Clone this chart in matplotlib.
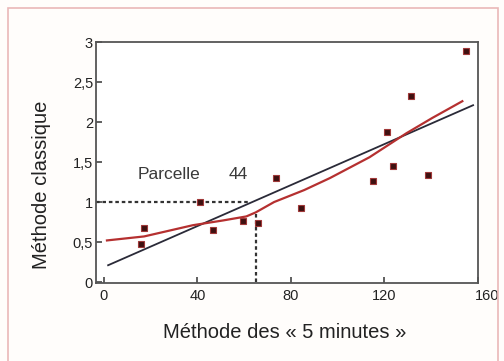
import matplotlib
matplotlib.use("Agg")
import matplotlib.pyplot as plt
from matplotlib.patches import Rectangle
from matplotlib.ticker import FuncFormatter
from matplotlib.transforms import ScaledTranslation

plt.rcParams['font.family'] = ['Liberation Sans', 'DejaVu Sans']

# Data points (Méthode des « 5 minutes », Méthode classique)
x_points = [15.8, 17.3, 41.1, 46.8, 59.4, 66.1, 73.5, 84.4, 115.3, 121.1, 123.5, 131.3, 138.5, 154.9]
y_points = [0.47, 0.68, 1.00, 0.65, 0.76, 0.74, 1.30, 0.92, 1.26, 1.88, 1.45, 2.33, 1.34, 2.89]

# Linear regression (black line) endpoints
line_x = [1.8, 157.9]
line_y = [0.21, 2.21]

# Smoothed curve (red)
curve_x = [1.3, 17.2, 38.0, 51.0, 60.9, 64.9, 72.8, 85.7, 96.7, 113.6, 129.4, 140.4, 153.3]
curve_y = [0.52, 0.57, 0.71, 0.77, 0.82, 0.87, 1.00, 1.15, 1.30, 1.56, 1.86, 2.05, 2.26]

# Parcelle 44 reading
p44_x = 64.9
p44_hx = 61.9
p44_y = 1.0
p44_vtop = 0.87

x_ticks = [0, 40, 80, 120, 160]
y_ticks = [0, 0.5, 1, 1.5, 2, 2.5, 3]

fig = plt.figure(figsize=(5.04, 3.61), dpi=100)
fig.patch.set_facecolor('#fffdfb')
fig.patches.append(Rectangle((8/504, -0.05), 490/504, 1.05 - 8/361, transform=fig.transFigure,
                             fill=False, edgecolor='#eab8b8', linewidth=1.2))

ax = fig.add_axes([95.5/504, 1-283/361, (478-95.5)/504, (283-42)/361])
ax.set_facecolor('white')
ax.set_xlim(-3.6, 160)
ax.set_ylim(-0.012, 3.0)

dash = (0, (1.6, 1.3))
ax.plot([ax.get_xlim()[0], p44_hx], [p44_y, p44_y], linestyle=dash, color='#333333', linewidth=1.6)
ax.plot([p44_x, p44_x], [0, p44_vtop], linestyle=dash, color='#333333', linewidth=1.6)

ax.plot(line_x, line_y, color='#2a2a38', linewidth=1.3)
ax.plot(curve_x, curve_y, color='#b53030', linewidth=1.6)
ax.plot(x_points, y_points, linestyle='none', marker='s', markersize=4.6,
        markerfacecolor='#3e1010', markeredgecolor='#a03838', markeredgewidth=0.8)

ax.text(14.6, 1.34, 'Parcelle', fontsize=12.5, color='#3a3a3a', va='center', ha='left')
ax.text(53.4, 1.34, '44', fontsize=12.5, color='#3a3a3a', va='center', ha='left')

ax.set_xticks(x_ticks)
ax.set_yticks(y_ticks)
ax.yaxis.set_major_formatter(FuncFormatter(lambda v, p: ('%g' % v).replace('.', ',')))
ax.tick_params(direction='in', length=4.5, width=1.2, colors='#444444', labelsize=10.5,
               labelcolor='#222222')
ax.tick_params(axis='y', pad=1.8)
ax.tick_params(axis='x', pad=4)
for s in ax.spines.values():
    s.set_color('#555555')
    s.set_linewidth(1.3)

fig.canvas.draw()
last = ax.get_xticklabels()[-1]
last.set_transform(last.get_transform() + ScaledTranslation(9/100, 0, fig.dpi_scale_trans))

fig.text(285/504, 1-332/361, 'Méthode des « 5 minutes »', fontsize=14.5, color='#222222',
         ha='center', va='center')
fig.text(42/504, 1-185/361, 'Méthode classique', fontsize=14.5, color='#222222',
         ha='center', va='center', rotation=90)

fig.savefig('out.png', dpi=100, facecolor=fig.get_facecolor())
